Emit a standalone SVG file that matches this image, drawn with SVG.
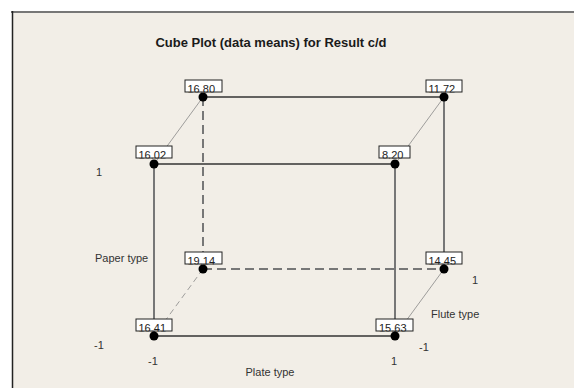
<svg xmlns="http://www.w3.org/2000/svg" width="574" height="388" viewBox="0 0 574 388">
<style>
text{font-family:"Liberation Sans",Arial,sans-serif;fill:#333}
.title{font-size:13px;font-weight:bold;fill:#1a1a1a}
.lbl{font-size:11px}
.val{font-size:11px;fill:#222}
.box{fill:#fff;stroke:#222;stroke-width:1}
.dot{fill:#000}
.edge{stroke:#333;stroke-width:1.5;fill:none}
.vert{stroke:#777;stroke-width:2;fill:none}
.dash{stroke:#777;stroke-width:2;stroke-dasharray:9 5;fill:none}
.diag{stroke:#888;stroke-width:0.8;fill:none}
.diagdash{stroke:#888;stroke-width:0.8;stroke-dasharray:6 4;fill:none}
</style>
<defs>
<clipPath id="c1"><rect x="185" y="80" width="37" height="12.5"/></clipPath>
<clipPath id="c2"><rect x="426" y="80" width="36" height="12.5"/></clipPath>
<clipPath id="c3"><rect x="136" y="146" width="36" height="12.5"/></clipPath>
<clipPath id="c4"><rect x="379" y="146" width="31" height="12.5"/></clipPath>
<clipPath id="c5"><rect x="185" y="252" width="37" height="12.5"/></clipPath>
<clipPath id="c6"><rect x="426" y="252" width="36" height="12.5"/></clipPath>
<clipPath id="c7"><rect x="136" y="319" width="36" height="12.5"/></clipPath>
<clipPath id="c8"><rect x="376" y="319" width="37" height="12.5"/></clipPath>
</defs>
<rect x="0" y="0" width="574" height="388" fill="#fff"/>
<rect x="12" y="12" width="570" height="380" fill="#F2EEE7"/>
<line x1="11" y1="12" x2="574" y2="12" stroke="#777" stroke-width="2"/>
<line x1="12.5" y1="11" x2="12.5" y2="388" stroke="#222" stroke-width="1.5"/>
<text class="title" x="271" y="47" text-anchor="middle">Cube Plot (data means) for Result c/d</text>
<g id="connectors">
<line class="diag" x1="203" y1="97" x2="154" y2="164"/>
<line class="diag" x1="444" y1="97" x2="395" y2="164"/>
<line class="diagdash" x1="203" y1="269" x2="154" y2="336"/>
<line class="diag" x1="444" y1="269" x2="395" y2="336"/>
<line class="dash" x1="203" y1="97" x2="203" y2="269"/>
<line class="dash" x1="203" y1="269" x2="444" y2="269"/>
<line class="vert" x1="444" y1="97" x2="444" y2="269"/>
<line class="edge" x1="203" y1="97" x2="444" y2="97"/>
<line class="vert" x1="154" y1="164" x2="154" y2="336"/>
<line class="vert" x1="395" y1="164" x2="395" y2="336"/>
<line class="edge" x1="154" y1="164" x2="395" y2="164"/>
<line class="edge" x1="154" y1="336" x2="395" y2="336"/>
</g>
<g id="n1680"><rect class="box" x="185" y="80" width="37" height="12"/><text class="val" x="187.5" y="93" clip-path="url(#c1)">16.80</text><circle class="dot" cx="203" cy="97" r="4.5"/></g>
<g id="n1172"><rect class="box" x="426" y="80" width="36" height="12"/><text class="val" x="428.5" y="93" clip-path="url(#c2)">11.72</text><circle class="dot" cx="444" cy="97" r="4.5"/></g>
<g id="n1602"><rect class="box" x="136" y="146" width="36" height="12"/><text class="val" x="138.5" y="159" clip-path="url(#c3)">16.02</text><circle class="dot" cx="154" cy="164" r="4.5"/></g>
<g id="n820"><rect class="box" x="379" y="146" width="31" height="12"/><text class="val" x="382" y="159" clip-path="url(#c4)">8.20</text><circle class="dot" cx="395" cy="164" r="4.5"/></g>
<g id="n1914"><rect class="box" x="185" y="252" width="37" height="12"/><text class="val" x="187.5" y="265" clip-path="url(#c5)">19.14</text><circle class="dot" cx="203" cy="269" r="4.5"/></g>
<g id="n1445"><rect class="box" x="426" y="252" width="36" height="12"/><text class="val" x="428.5" y="265" clip-path="url(#c6)">14.45</text><circle class="dot" cx="444" cy="269" r="4.5"/></g>
<g id="n1641"><rect class="box" x="136" y="319" width="36" height="12"/><text class="val" x="138.5" y="332" clip-path="url(#c7)">16.41</text><circle class="dot" cx="154" cy="336" r="4.5"/></g>
<g id="n1563"><rect class="box" x="376" y="319" width="37" height="12"/><text class="val" x="379" y="332" clip-path="url(#c8)">15.63</text><circle class="dot" cx="395" cy="336" r="4.5"/></g>
<g id="labels">
<text class="lbl" x="96" y="176">1</text>
<text class="lbl" x="94" y="349">-1</text>
<text class="lbl" x="95" y="262">Paper type</text>
<text class="lbl" x="148" y="365">-1</text>
<text class="lbl" x="391" y="365">1</text>
<text class="lbl" x="270" y="376" text-anchor="middle">Plate type</text>
<text class="lbl" x="472" y="284">1</text>
<text class="lbl" x="431" y="318">Flute type</text>
<text class="lbl" x="419" y="351">-1</text>
</g>
</svg>
